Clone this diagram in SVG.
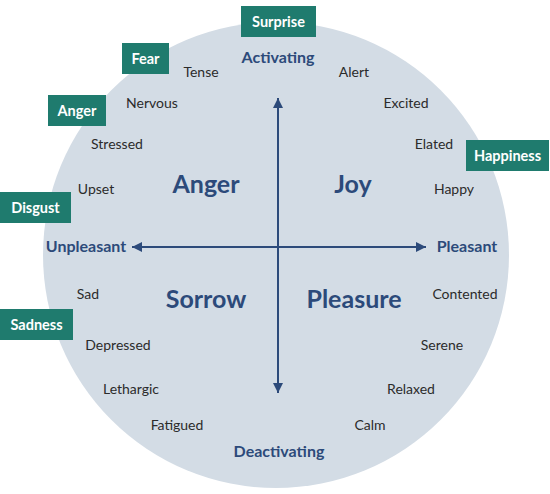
<svg xmlns="http://www.w3.org/2000/svg" width="550" height="494" viewBox="0 0 550 494">
<style>
.bg{fill:#d3dce5}
.box{fill:#1f7b6e}
.bl{font-family:Lato,"Liberation Sans",sans-serif;font-size:14.5px;font-weight:bold;fill:#ffffff;text-anchor:middle}
.w{font-family:Lato,"Liberation Sans",sans-serif;font-size:14px;fill:#2b2b2b;text-anchor:middle}
.ax{font-family:Lato,"Liberation Sans",sans-serif;font-size:16px;font-weight:bold;fill:#2c4a7a;text-anchor:middle}
.q{font-family:Lato,"Liberation Sans",sans-serif;font-size:25px;font-weight:bold;fill:#2c4a7a;text-anchor:middle}
.ln{stroke:#2c4a7a;stroke-width:2;fill:none}
</style>
<defs>
<marker id="ah" viewBox="0 0 10 10" refX="10" refY="5" markerWidth="10" markerHeight="10" markerUnits="userSpaceOnUse" orient="auto">
<path d="M0,0 L10,5 L0,10 z" fill="#2c4a7a"/>
</marker>
</defs>
<circle class="bg" cx="276" cy="255" r="233"/>
<g id="connectors">
<line class="ln" x1="278" y1="247" x2="278" y2="98" marker-end="url(#ah)"/>
<line class="ln" x1="278" y1="247" x2="278" y2="393" marker-end="url(#ah)"/>
<line class="ln" x1="278" y1="247" x2="132" y2="247" marker-end="url(#ah)"/>
<line class="ln" x1="278" y1="247" x2="426" y2="247" marker-end="url(#ah)"/>
</g>
<g id="axis-labels">
<text class="ax" x="278" y="63">Activating</text>
<text class="ax" x="279" y="457">Deactivating</text>
<text class="ax" x="86" y="252">Unpleasant</text>
<text class="ax" x="467" y="252">Pleasant</text>
</g>
<g id="quadrants">
<text class="q" x="206" y="193">Anger</text>
<text class="q" x="353" y="193">Joy</text>
<text class="q" x="206" y="308">Sorrow</text>
<text class="q" x="354" y="308">Pleasure</text>
</g>
<g id="words">
<text class="w" x="201" y="77">Tense</text>
<text class="w" x="354" y="77">Alert</text>
<text class="w" x="152" y="108">Nervous</text>
<text class="w" x="406" y="108">Excited</text>
<text class="w" x="117" y="149">Stressed</text>
<text class="w" x="434" y="149">Elated</text>
<text class="w" x="96" y="194">Upset</text>
<text class="w" x="454" y="194">Happy</text>
<text class="w" x="88" y="299">Sad</text>
<text class="w" x="465" y="299">Contented</text>
<text class="w" x="118" y="350">Depressed</text>
<text class="w" x="442" y="350">Serene</text>
<text class="w" x="131" y="394">Lethargic</text>
<text class="w" x="411" y="394">Relaxed</text>
<text class="w" x="177" y="430">Fatigued</text>
<text class="w" x="370" y="430">Calm</text>
</g>
<g id="surprise"><rect class="box" x="241" y="6" width="75" height="31"/><text class="bl" x="278.5" y="27">Surprise</text></g>
<g id="fear"><rect class="box" x="122" y="43" width="47" height="31"/><text class="bl" x="145.5" y="64">Fear</text></g>
<g id="anger"><rect class="box" x="48" y="95" width="58" height="31"/><text class="bl" x="77" y="116">Anger</text></g>
<g id="happiness"><rect class="box" x="466" y="140" width="83" height="31"/><text class="bl" x="507.5" y="161">Happiness</text></g>
<g id="disgust"><rect class="box" x="0" y="192" width="71" height="31"/><text class="bl" x="35.5" y="213">Disgust</text></g>
<g id="sadness"><rect class="box" x="0" y="309" width="73" height="31"/><text class="bl" x="36.5" y="330">Sadness</text></g>
</svg>
